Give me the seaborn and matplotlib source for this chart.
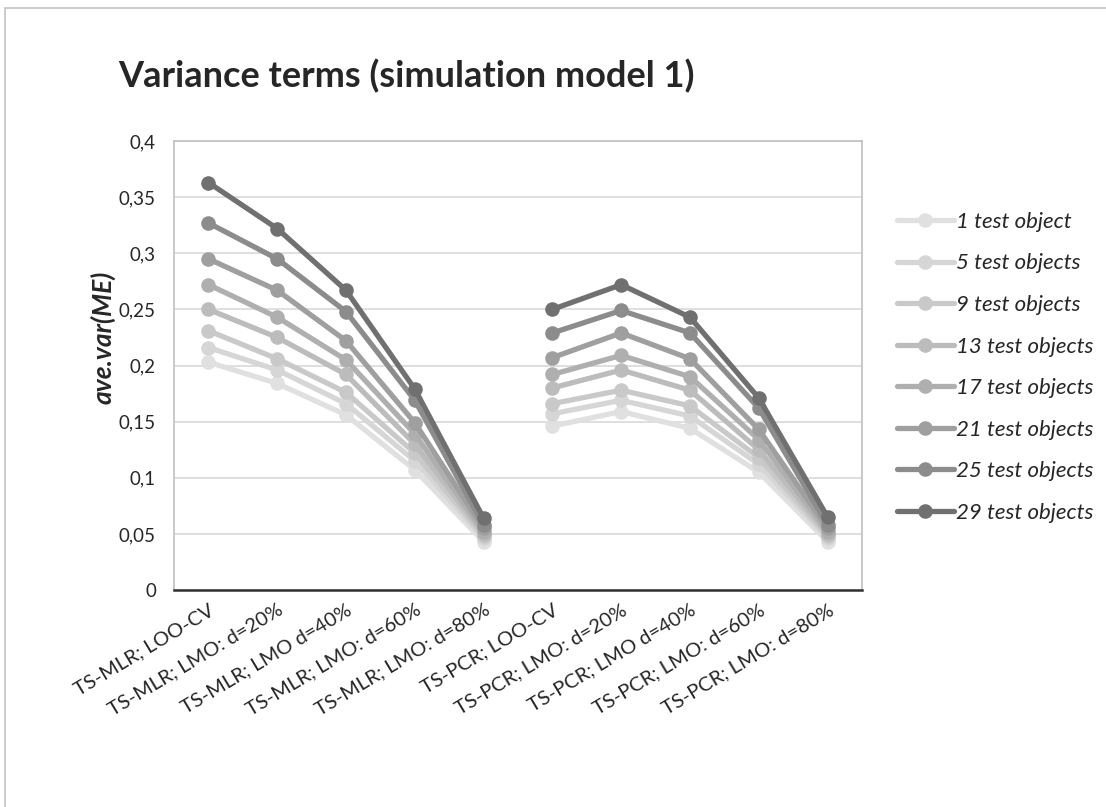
import matplotlib
matplotlib.use("Agg")
import matplotlib.pyplot as plt
import numpy as np
import pandas as pd
import seaborn as sns
from matplotlib.patches import Rectangle
from matplotlib.ticker import FuncFormatter

methods = [
    "TS-MLR; LOO-CV", "TS-MLR; LMO: d=20%", "TS-MLR; LMO d=40%", "TS-MLR; LMO: d=60%", "TS-MLR; LMO: d=80%",
    "TS-PCR; LOO-CV", "TS-PCR; LMO: d=20%", "TS-PCR; LMO d=40%", "TS-PCR; LMO: d=60%", "TS-PCR; LMO: d=80%",
]
group_of_method = ["MLR"] * 5 + ["PCR"] * 5

series_names = [
    "1 test object", "5 test objects", "9 test objects", "13 test objects",
    "17 test objects", "21 test objects", "25 test objects", "29 test objects",
]
series_colors = ["#e0e0e0", "#d6d6d6", "#c9c9c9", "#bcbcbc", "#afafaf", "#9f9f9f", "#8c8c8c", "#707070"]

# ave.var(ME), one list per number of test objects (10 methods each)
var_1 = [0.203, 0.184, 0.156, 0.107, 0.043, 0.146, 0.159, 0.144, 0.105, 0.043]
var_5 = [0.216, 0.196, 0.166, 0.115, 0.046, 0.157, 0.169, 0.155, 0.112, 0.046]
var_9 = [0.231, 0.206, 0.176, 0.122, 0.048, 0.166, 0.178, 0.164, 0.118, 0.048]
var_13 = [0.250, 0.225, 0.192, 0.130, 0.050, 0.180, 0.196, 0.178, 0.125, 0.050]
var_17 = [0.272, 0.243, 0.205, 0.139, 0.052, 0.192, 0.209, 0.190, 0.134, 0.052]
var_21 = [0.295, 0.267, 0.222, 0.149, 0.055, 0.207, 0.229, 0.206, 0.143, 0.055]
var_25 = [0.327, 0.295, 0.248, 0.169, 0.058, 0.229, 0.249, 0.229, 0.162, 0.058]
var_29 = [0.363, 0.322, 0.267, 0.179, 0.064, 0.250, 0.272, 0.243, 0.171, 0.065]
all_series = [var_1, var_5, var_9, var_13, var_17, var_21, var_25, var_29]

rows = []
for name, vals in zip(series_names, all_series):
    for i, (m, g, v) in enumerate(zip(methods, group_of_method, vals)):
        rows.append({"series": name, "method": m, "pos": i, "group": g, "value": v})
df = pd.DataFrame(rows)

sns.set_style("white")
plt.rcParams["font.family"] = ["Lato", "DejaVu Sans"]

fig = plt.figure(figsize=(11.06, 8.07), dpi=100)
# outer chart frame
fig.patches.append(Rectangle((5 / 1106, -0.05), 1.2, 1 - 8 / 807 + 0.05, transform=fig.transFigure,
                             fill=False, edgecolor="#c8c8c8", linewidth=1.3))

ax = fig.add_axes([174 / 1106, 1 - 590 / 807, (862 - 174) / 1106, (590 - 141) / 807])
sns.lineplot(data=df, x="pos", y="value", hue="series", hue_order=series_names,
             palette=series_colors, units="group", estimator=None, marker="o",
             markersize=10.5, markeredgewidth=0, linewidth=3.8, ax=ax, legend=True)

ax.set_xlim(-0.5, len(methods) - 0.5)
ax.set_ylim(0, 0.4)
ax.set_yticks(np.arange(0, 0.401, 0.05))
ax.yaxis.set_major_formatter(FuncFormatter(lambda v, p: ("%g" % round(v, 2)).replace(".", ",")))
ax.set_xticks(range(len(methods)))
ax.set_xticklabels(methods, rotation=31, ha="right", rotation_mode="anchor", fontsize=14.5)
ax.tick_params(axis="y", labelsize=13.5, length=0, pad=13)
ax.tick_params(axis="x", length=0, pad=8)
ax.grid(axis="y", color="#d9d9d9", linewidth=1.2)
for side in ["left", "top", "right"]:
    ax.spines[side].set_color("#c0c0c0")
    ax.spines[side].set_linewidth(1.2)
ax.spines["bottom"].set_color("#303030")
ax.spines["bottom"].set_linewidth(1.8)
ax.set_xlabel("")
ax.set_ylabel("")
fig.text(103 / 1106, 1 - 337 / 807, "ave.var(ME)", fontsize=19, fontweight="bold",
         fontstyle="italic", rotation=90, ha="center", va="center")

handles, labels = ax.get_legend_handles_labels()
ax.get_legend().remove()
fig.legend(handles, labels, loc="upper left", bbox_to_anchor=(888 / 1106, 1 - 203 / 807),
           frameon=False, prop={"size": 16, "style": "italic"}, handlelength=2.55,
           handletextpad=0.1, labelspacing=0.97, borderaxespad=0)

fig.text(118 / 1106, 1 - 76 / 807, "Variance terms (simulation model 1)", fontsize=26,
         fontweight="bold", va="center", ha="left")

fig.savefig("out.png", dpi=100)
